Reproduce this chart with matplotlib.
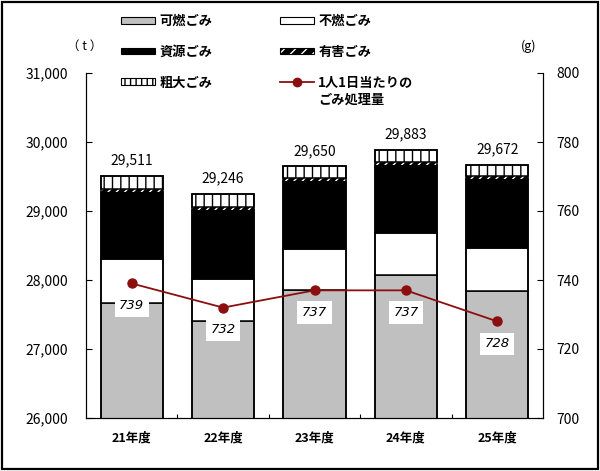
import matplotlib
matplotlib.use("Agg")
import matplotlib.pyplot as plt
from matplotlib.patches import Patch, Rectangle
from matplotlib.lines import Line2D
from matplotlib.legend_handler import HandlerTuple
from matplotlib.ticker import FuncFormatter, MultipleLocator, FixedLocator

plt.rcParams['font.family'] = ['Noto Sans CJK JP', 'DejaVu Sans']
plt.rcParams['hatch.linewidth'] = 1.0

years = ["21年度", "22年度", "23年度", "24年度", "25年度"]
combustible = [27660, 27400, 27860, 28070, 27840]
noncombustible = [644, 620, 589, 607, 628]
resource = [970, 1000, 986, 988, 994]
hazardous = [45, 45, 45, 45, 45]
bulky = [192, 181, 170, 173, 165]
totals = [29511, 29246, 29650, 29883, 29672]
per_capita = [739, 732, 737, 737, 728]

GRAY = "#C0C0C0"
RED = "#8B0F0F"

fig = plt.figure(figsize=(6.0, 4.71), dpi=100)
ax = fig.add_axes([86/600, 1-418/471, (543-86)/600, (418-73)/471])
ax2 = ax.twinx()

x = list(range(len(years)))
w = 0.68
lw = 1.1

bottom = [0]*len(years)
def add(vals, **kw):
    global bottom
    ax.bar(x, vals, w, bottom=bottom, **kw)
    bottom = [b + v for b, v in zip(bottom, vals)]

add(combustible, color=GRAY, edgecolor="black", linewidth=lw, zorder=2)
add(noncombustible, color="white", edgecolor="black", linewidth=lw, zorder=2)
add(resource, color="black", edgecolor="black", linewidth=lw, zorder=2)
add(hazardous, color="black", edgecolor="white", linewidth=0, hatch="////", zorder=2)
add(bulky, color="white", edgecolor="black", linewidth=lw, hatch="||", zorder=2)
# outline of each stack
ax.bar(x, totals, w, fill=False, edgecolor="black", linewidth=lw, zorder=3)

for xi, t in zip(x, totals):
    ax.annotate(f"{t:,}", (xi, t), xytext=(0, 6), textcoords="offset points",
                ha="center", va="bottom", fontsize=10)

ax.set_xlim(-0.5, len(years)-0.5)
ax.set_ylim(26000, 31000)
ax.yaxis.set_major_locator(MultipleLocator(1000))
ax.yaxis.set_major_formatter(FuncFormatter(lambda v, p: f"{int(v):,}"))
ax.set_xticks(x)
ax.set_xticklabels(years, fontsize=9, fontweight="bold")
ax.xaxis.set_minor_locator(FixedLocator([i + 0.5 for i in x[:-1]]))
ax.tick_params(axis="x", which="major", length=0, pad=10)
ax.tick_params(axis="x", which="minor", direction="in", length=3, width=0.8)
ax.tick_params(axis="y", direction="in", length=4, width=0.8, pad=13, labelsize=10)
for s in ["top"]:
    ax.spines[s].set_visible(False)
    ax2.spines[s].set_visible(False)
for s in ["left", "bottom", "right"]:
    ax.spines[s].set_linewidth(0.8)
ax2.spines["right"].set_linewidth(0.8)

ax2.set_ylim(700, 800)
ax2.yaxis.set_major_locator(MultipleLocator(20))
ax2.tick_params(axis="y", direction="in", length=4, width=0.8, pad=9.5, labelsize=10)
ax2.plot(x, per_capita, color=RED, linewidth=1.3, marker="o", markersize=6.5, zorder=5)
for xi, v in zip(x, per_capita):
    ax2.annotate(f"{v}", (xi, v), xytext=(0, -16), textcoords="offset points",
                 ha="center", va="center", fontsize=9.5, style="italic",
                 family=['DejaVu Sans'],
                 bbox=dict(boxstyle="square,pad=0.35", fc="white", ec="none"), zorder=6)

fig.text(85/600, 1-46/471, "（ t ）", ha="center", va="center", fontsize=9)
fig.text(529/600, 1-46/471, "(g)", ha="center", va="center", fontsize=9)

# legends
h_comb = Patch(facecolor=GRAY, edgecolor="black", linewidth=0.8)
h_res = Patch(facecolor="black", edgecolor="black", linewidth=0.8)
h_bulky = Patch(facecolor="white", edgecolor="black", linewidth=0.8, hatch="|||")
h_non = Patch(facecolor="white", edgecolor="black", linewidth=0.8)
h_haz = (Patch(facecolor="black", edgecolor="white", linewidth=0, hatch="///"),
         Patch(fill=False, edgecolor="black", linewidth=0.8))
h_line = Line2D([], [], color=RED, linewidth=1.3, marker="o", markersize=6)

LFS = 9.5
common = dict(frameon=False, handlelength=2.55, handleheight=0.4,
              handletextpad=0.35, labelspacing=1.27, borderpad=0, borderaxespad=0,
              loc="upper left", handler_map={tuple: HandlerTuple(ndivide=1)},
              prop=dict(size=LFS, weight="bold"))
leg1 = fig.legend([h_comb, h_res, h_bulky], ["可燃ごみ", "資源ごみ", "粗大ごみ"],
                  bbox_to_anchor=(121/600, 1-14/471), **common)
leg2 = fig.legend([h_non, h_haz, h_line], ["不燃ごみ", "有害ごみ", "1人1日当たりの"],
                  bbox_to_anchor=(280/600, 1-14/471), **common)
for t in leg2.get_texts()[2:]:
    t.set_style("italic")
fig.text(318/600, 1-100/471, "ごみ処理量", ha="left", va="center",
         fontsize=LFS, fontweight="bold", style="italic")

fig.patches.append(Rectangle((2/600, 2/471), 596/600, 467/471, transform=fig.transFigure,
                             fill=False, edgecolor="black", linewidth=1.6))

fig.savefig("out.png", dpi=100)
